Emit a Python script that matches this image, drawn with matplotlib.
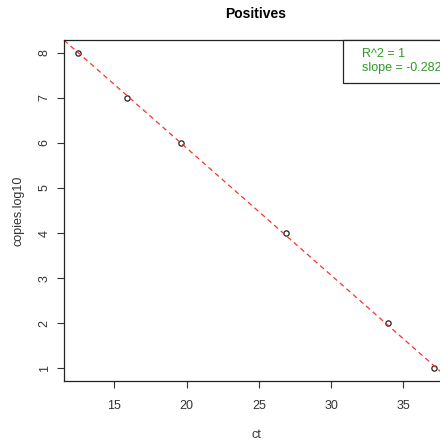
import numpy as np
import matplotlib
matplotlib.use("Agg")
import matplotlib.pyplot as plt
from matplotlib.patches import Rectangle

plt.rcParams['font.family'] = ['Liberation Sans', 'DejaVu Sans']

# qPCR standard curve: cycle threshold vs log10 copy number
ct = [12.5, 15.9, 19.6, 26.9, 33.9, 37.1]
copies_log10 = [8, 7, 6, 4, 2, 1]

x = np.array(ct)
y = np.array(copies_log10, dtype=float)
slope, intercept = np.polyfit(x, y, 1)
r2 = np.corrcoef(x, y)[0, 1] ** 2

fig = plt.figure(figsize=(4.4, 4.4), dpi=100)
ax = fig.add_axes([64 / 440, 59 / 440, 384 / 440, 341 / 440])

ax.plot(x, y, linestyle='none', marker='o', markersize=3.8,
        markerfacecolor='none', markeredgecolor='#222222', markeredgewidth=0.9)
ax.axline((0, intercept), slope=slope, color='#ff3030', linestyle=(0, (4, 3)),
          linewidth=0.9)

# R-style 4% padding around the data
xpad = (x.max() - x.min()) * 0.04
ypad = (y.max() - y.min()) * 0.04
ax.set_xlim(x.min() - xpad, x.max() + xpad)
ax.set_ylim(y.min() - ypad, y.max() + ypad)

ax.set_xticks([15, 20, 25, 30, 35])
ax.set_yticks(range(1, 9))
ax.tick_params(axis='both', direction='out', length=5, width=0.8,
               labelsize=9, colors='#333333')
ax.tick_params(axis='x', pad=9)
ax.tick_params(axis='y', pad=4.5)
for lbl in ax.get_yticklabels():
    lbl.set_rotation(90)
    lbl.set_va('center')
for s in ax.spines.values():
    s.set_color('#222222')
    s.set_linewidth(0.9)

ax.set_xlabel('ct', fontsize=9, color='#333333', labelpad=12)
ax.set_ylabel('copies.log10', fontsize=9, color='#333333', labelpad=10)
ax.set_title('Positives', fontsize=10, fontweight='bold', pad=16)

# legend box in the top-right corner
bx = (343 - 64) / 384
by = (381 - 83) / 341
box = Rectangle((bx, by), 1.0, 1.0 - by, transform=ax.transAxes, fill=True,
                facecolor='white', edgecolor='#222222', linewidth=0.9,
                clip_on=False, zorder=5)
ax.add_patch(box)
tx = (362 - 64) / 384
ax.text(tx, (381 - 54) / 341, f'R^2 = {r2:.0f}', transform=ax.transAxes,
        fontsize=9, color='#2e9a22', va='center', ha='left', zorder=6)
ax.text(tx, (381 - 68) / 341, f'slope = {slope:.3f}', transform=ax.transAxes,
        fontsize=9, color='#2e9a22', va='center', ha='left', zorder=6)

fig.savefig('out.png', dpi=100, facecolor='white')
